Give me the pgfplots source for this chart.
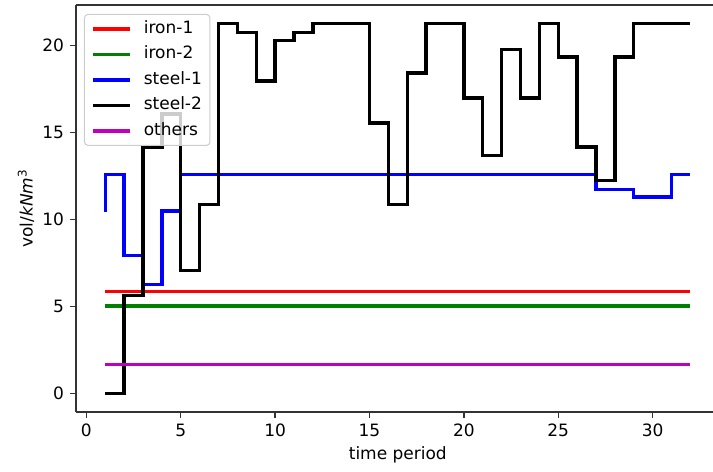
\documentclass[border=0pt]{standalone}
\usepackage{fontspec}
\setmainfont{DejaVu Sans}
\usepackage{pgfplots}
\usepackage{pgfplotstable}
\pgfplotsset{compat=1.18}
\definecolor{mplgreen}{rgb}{0,0.5,0}
\definecolor{mplmag}{rgb}{0.75,0,0.75}
\definecolor{legframe}{gray}{0.8}

\pgfplotstableread{
x y
1 5.85
32 5.85
}\ironone
\pgfplotstableread{
x y
1 5.02
32 5.02
}\irontwo
\pgfplotstableread{
x y
1 1.67
32 1.67
}\others
\pgfplotstableread{
x y
1 10.42
2 12.57
3 7.93
4 6.26
5 10.48
6 12.57
7 12.57
8 12.57
9 12.57
10 12.57
11 12.57
12 12.57
13 12.57
14 12.57
15 12.57
16 12.57
17 12.57
18 12.57
19 12.57
20 12.57
21 12.57
22 12.57
23 12.57
24 12.57
25 12.57
26 12.57
27 12.57
28 11.72
29 11.72
30 11.28
31 11.28
32 12.57
}\steelone
\pgfplotstableread{
x y
1 0
2 0
3 5.63
4 14.12
5 16.05
6 7.07
7 10.84
8 21.25
9 20.72
10 17.95
11 20.29
12 20.73
13 21.25
14 21.25
15 21.25
16 15.54
17 10.84
18 18.40
19 21.25
20 21.25
21 16.97
22 13.68
23 19.77
24 16.97
25 21.25
26 19.33
27 14.16
28 12.24
29 19.33
30 21.25
31 21.25
32 21.25
}\steeltwo

\begin{document}
\fontsize{10.2pt}{12pt}\selectfont
\begin{tikzpicture}
\begin{axis}[
  scale only axis,
  width=382.2pt, height=244.2pt,
  xmin=-0.55, xmax=33.2,
  ymin=-1.0625, ymax=22.3125,
  axis y line*=left,
  xtick pos=bottom, ytick pos=left,
  tick align=outside,
  major tick length=3.6pt,
  xtick={0,5,...,30},
  ytick={0,5,...,20},
  axis line style={line width=0.8pt, black!80},
  tick style={line width=0.8pt, black!80},
  /pgf/number format/assume math mode=true,
  tick label style={font=\fontsize{10.2pt}{12pt}\selectfont},
  xlabel={time period},
  ylabel={vol/\textit{kNm}\textsuperscript{3}},
  xlabel style={at={(axis description cs:0.5052,-0.1057)}, anchor=center},
  ylabel style={at={(axis description cs:-0.0785,0.5)}, anchor=center, rotate=0},
  label style={font=\fontsize{10.2pt}{12pt}\selectfont},
  legend style={at={(axis description cs:0,1)}, anchor=north west,
    xshift=4.8pt, yshift=-5.4pt,
    draw=legframe, fill=white, fill opacity=0.8, draw opacity=1, text opacity=1,
    rounded corners=2pt, line width=0.6pt,
    inner xsep=4pt, inner ysep=3.6pt, row sep=5.2pt, column sep=6.6pt,
    font=\fontsize{10.2pt}{12pt}\selectfont,
    nodes={inner xsep=0.8pt, inner ysep=0pt, text height=7.7pt, text depth=2.4pt}},
  legend cell align=left,
  legend image code/.code={\draw[#1] (0pt,0pt) -- (22.2pt,0pt);},
  every axis plot/.append style={line width=2pt, line join=miter},
]
\addplot[red, const plot mark right] table[x=x,y=y] {\ironone};
\addlegendentry{iron-1}
\addplot[mplgreen, const plot mark right] table[x=x,y=y] {\irontwo};
\addlegendentry{iron-2}
\addplot[blue, const plot mark right] table[x=x,y=y] {\steelone};
\addlegendentry{steel-1}
\addplot[black, const plot mark right] table[x=x,y=y] {\steeltwo};
\addlegendentry{steel-2}
\addplot[mplmag, const plot mark right] table[x=x,y=y] {\others};
\addlegendentry{others}
\end{axis}
\pgfresetboundingbox
\path (-45.6pt,-36pt) rectangle (382.2pt,247.2pt);
\end{tikzpicture}
\end{document}
